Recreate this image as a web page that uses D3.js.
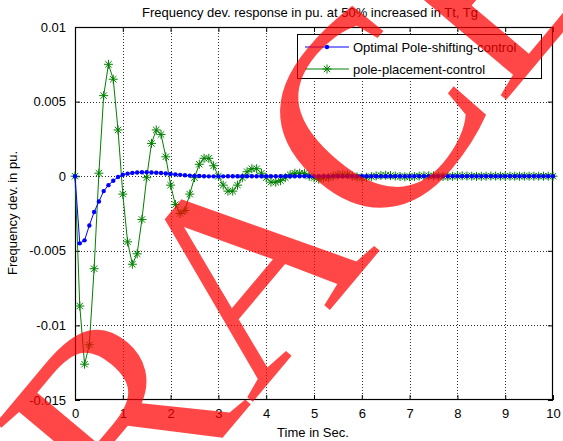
<!DOCTYPE html>
<html>
<head>
<meta charset="utf-8">
<script src="https://cdn.jsdelivr.net/npm/d3@7/dist/d3.min.js"></script>
<style>
  html, body { margin: 0; padding: 0; background: #fff; }
  svg { display: block; }
  text { font-family: "Liberation Sans", Arial, sans-serif; }
</style>
</head>
<body>
<svg id="chart" width="563" height="441"></svg>
<script>
// Sample times (s), 0.1 s step
const time = d3.range(0, 101).map(i => +(i * 0.1).toFixed(1));

// Optimal pole-shifting control response (pu)
const poleShifting = [
  0, -0.0045, -0.0043, -0.0033, -0.0024, -0.0017, -0.0010, -0.0006, -0.0003, -0.00005,
  0.0001, 0.00017, 0.00022, 0.00025, 0.00026, 0.00026, 0.00025, 0.00023, 0.00021, 0.00018,
  0.00015, 0.00012, 0.00009, 0.00006, 0.00004, 0.00002, 0.00001, 0, -0.00001, -0.00001,
  -0.00001, -0.00001, 0, 0, 0, 0, 0, 0, 0, 0,
  0, 0, 0, 0, 0, 0, 0, 0, 0, 0,
  0, 0, 0, 0, 0, 0, 0, 0, 0, 0,
  0, 0, 0, 0, 0, 0, 0, 0, 0, 0,
  0, 0, 0, 0, 0, 0, 0, 0, 0, 0,
  0, 0, 0, 0, 0, 0, 0, 0, 0, 0,
  0, 0, 0, 0, 0, 0, 0, 0, 0, 0,
  0
];

// Pole-placement control response (pu)
const polePlacement = [
  0, -0.0087, -0.0126, -0.0113, -0.0062, 0.0002, 0.0054, 0.0075, 0.0065, 0.0031,
  -0.0012, -0.0044, -0.0059, -0.0052, -0.0029, -0.0001, 0.0022, 0.0031, 0.0028, 0.0013,
  -0.0006, -0.0019, -0.0025, -0.0023, -0.0012, -0.0001, 0.0008, 0.0012, 0.0012, 0.0007,
  0.0000, -0.0006, -0.0010, -0.0010, -0.0006, -0.0001, 0.0003, 0.0005, 0.0005, 0.0002,
  -0.0001, -0.0004, -0.0004, -0.0003, -0.0001, 0.0001, 0.0002, 0.0002, 0.0002, 0.0000,
  -0.0001, -0.0002, -0.0001, -0.0001, 0.0000, 0.0001, 0.0001, 0.0001, 0.0000, -0.00005,
  -0.0001, -0.00007, -0.00003, 0.00002, 0.00005, 0.00006, 0.00004, 0.00001, -0.00002, -0.00004,
  -0.00004, -0.00002, 0.00001, 0.00003, 0.00003, 0.00002, 0, -0.00002, -0.00002, -0.00001,
  0.00001, 0.00002, 0.00001, 0, -0.00001, -0.00001, 0, 0.00001, 0.00001, 0,
  0, 0, 0, 0, 0, 0, 0, 0, 0, 0,
  0
];

const xTicks = [0, 1, 2, 3, 4, 5, 6, 7, 8, 9, 10];
const yTicks = [0.01, 0.005, 0, -0.005, -0.01, -0.015];
const yTickLabels = ["0.01", "0.005", "0", "-0.005", "-0.01", "-0.015"];
const seriesNames = ["Optimal Pole-shifting-control", "pole-placement-control"];

const titleText = "Frequency dev. response in pu. at 50% increased in Tt, Tg";
const xLabelText = "Time in Sec.";
const yLabelText = "Frequency dev. in pu.";
const stampText = "RACE";

const svg = d3.select("#chart");
const plotLeft = 75, plotRight = 553, plotTop = 27, plotBottom = 400;

const x = d3.scaleLinear().domain([0, 10]).range([plotLeft, plotRight]);
const y = d3.scaleLinear().domain([-0.015, 0.01]).range([plotBottom, plotTop]);

// dotted grid
const grid = svg.append("g").attr("stroke", "#000").attr("stroke-width", 1)
  .attr("stroke-dasharray", "1,2").attr("opacity", 0.8);
grid.selectAll(".gx").data(xTicks.slice(1, -1)).join("line")
  .attr("x1", d => Math.round(x(d)) + 0.5).attr("x2", d => Math.round(x(d)) + 0.5)
  .attr("y1", plotTop).attr("y2", plotBottom);
grid.selectAll(".gy").data(yTicks.slice(1, -1)).join("line")
  .attr("y1", d => Math.round(y(d)) + 0.5).attr("y2", d => Math.round(y(d)) + 0.5)
  .attr("x1", plotLeft).attr("x2", plotRight);

// axes with inward ticks on all four sides
const fmtY = d => yTickLabels[yTicks.indexOf(d)];
function styleAxis(g) {
  g.select(".domain").remove();
  g.selectAll("line").attr("stroke", "#000");
  g.selectAll("text").attr("fill", "#000").style("font-size", "13px")
    .style("font-family", "'Liberation Sans', Arial, sans-serif");
}
svg.append("g").attr("transform", `translate(0,${plotBottom})`)
  .call(d3.axisBottom(x).tickValues(xTicks).tickSizeInner(-5).tickSizeOuter(0).tickPadding(9))
  .call(styleAxis);
svg.append("g").attr("transform", `translate(0,${plotTop})`)
  .call(d3.axisTop(x).tickValues(xTicks).tickSizeInner(-5).tickSizeOuter(0).tickFormat(""))
  .call(styleAxis);
svg.append("g").attr("transform", `translate(${plotLeft},0)`)
  .call(d3.axisLeft(y).tickValues(yTicks).tickFormat(fmtY).tickSizeInner(-5).tickSizeOuter(0).tickPadding(9))
  .call(styleAxis);
svg.append("g").attr("transform", `translate(${plotRight},0)`)
  .call(d3.axisRight(y).tickValues(yTicks).tickSizeInner(-5).tickSizeOuter(0).tickFormat(""))
  .call(styleAxis);

svg.append("rect").attr("x", plotLeft + 0.5).attr("y", plotTop + 0.5)
  .attr("width", plotRight - plotLeft - 1).attr("height", plotBottom - plotTop - 1)
  .attr("fill", "none").attr("stroke", "#000").attr("stroke-width", 1.2);

// series
const blueData = time.map((t, i) => [t, poleShifting[i]]);
const greenData = time.map((t, i) => [t, polePlacement[i]]);
const line = d3.line().x(d => x(d[0])).y(d => y(d[1]));

const starPath = r => {
  const k = r * 0.7071;
  return `M${-r},0L${r},0M0,${-r}L0,${r}M${-k},${-k}L${k},${k}M${-k},${k}L${k},${-k}`;
};

const plot = svg.append("g");
plot.append("path").datum(greenData).attr("d", line)
  .attr("fill", "none").attr("stroke", "#008000").attr("stroke-width", 1);
plot.selectAll(".star").data(greenData).join("path")
  .attr("transform", d => `translate(${x(d[0])},${y(d[1])})`)
  .attr("d", starPath(4.5)).attr("stroke", "#008000").attr("stroke-width", 1).attr("fill", "none");

plot.append("path").datum(blueData).attr("d", line)
  .attr("fill", "none").attr("stroke", "#0000ff").attr("stroke-width", 1);
plot.selectAll(".dot").data(blueData).join("circle")
  .attr("cx", d => x(d[0])).attr("cy", d => y(d[1])).attr("r", 2.2).attr("fill", "#0000ff");

// legend
const lg = svg.append("g").attr("transform", "translate(297,34)");
lg.append("rect").attr("x", 0.5).attr("y", 0.5).attr("width", 244).attr("height", 44)
  .attr("fill", "#fff").attr("stroke", "#000").attr("stroke-width", 1);
const rows = [
  { name: seriesNames[0], color: "#0000ff", marker: "dot", yy: 13 },
  { name: seriesNames[1], color: "#008000", marker: "star", yy: 35 }
];
rows.forEach(r => {
  lg.append("line").attr("x1", 8).attr("x2", 52).attr("y1", r.yy).attr("y2", r.yy)
    .attr("stroke", r.color).attr("stroke-width", 1);
  if (r.marker === "dot") {
    lg.append("circle").attr("cx", 30).attr("cy", r.yy).attr("r", 2.2).attr("fill", r.color);
  } else {
    lg.append("path").attr("transform", `translate(30,${r.yy})`).attr("d", starPath(4.5))
      .attr("stroke", r.color).attr("fill", "none");
  }
  lg.append("text").attr("x", 56).attr("y", r.yy + 4.5).style("font-size", "13px")
    .attr("fill", "#000").text(r.name);
});

// titles
svg.append("text").attr("x", 310).attr("y", 17).attr("text-anchor", "middle")
  .style("font-size", "13px").text(titleText);
svg.append("text").attr("x", 313).attr("y", 437).attr("text-anchor", "middle")
  .style("font-size", "13px").text(xLabelText);
svg.append("text").attr("transform", "translate(17,213) rotate(-90)").attr("text-anchor", "middle")
  .style("font-size", "13px").text(yLabelText);

// red diagonal stamp over the figure
svg.append("text").attr("transform", "translate(131,547) rotate(-50)")
  .style("font-family", "'Liberation Serif', 'Times New Roman', serif")
  .style("font-size", "280px").attr("fill", "#ff0000").attr("fill-opacity", 0.72)
  .text(stampText);
</script>
</body>
</html>
